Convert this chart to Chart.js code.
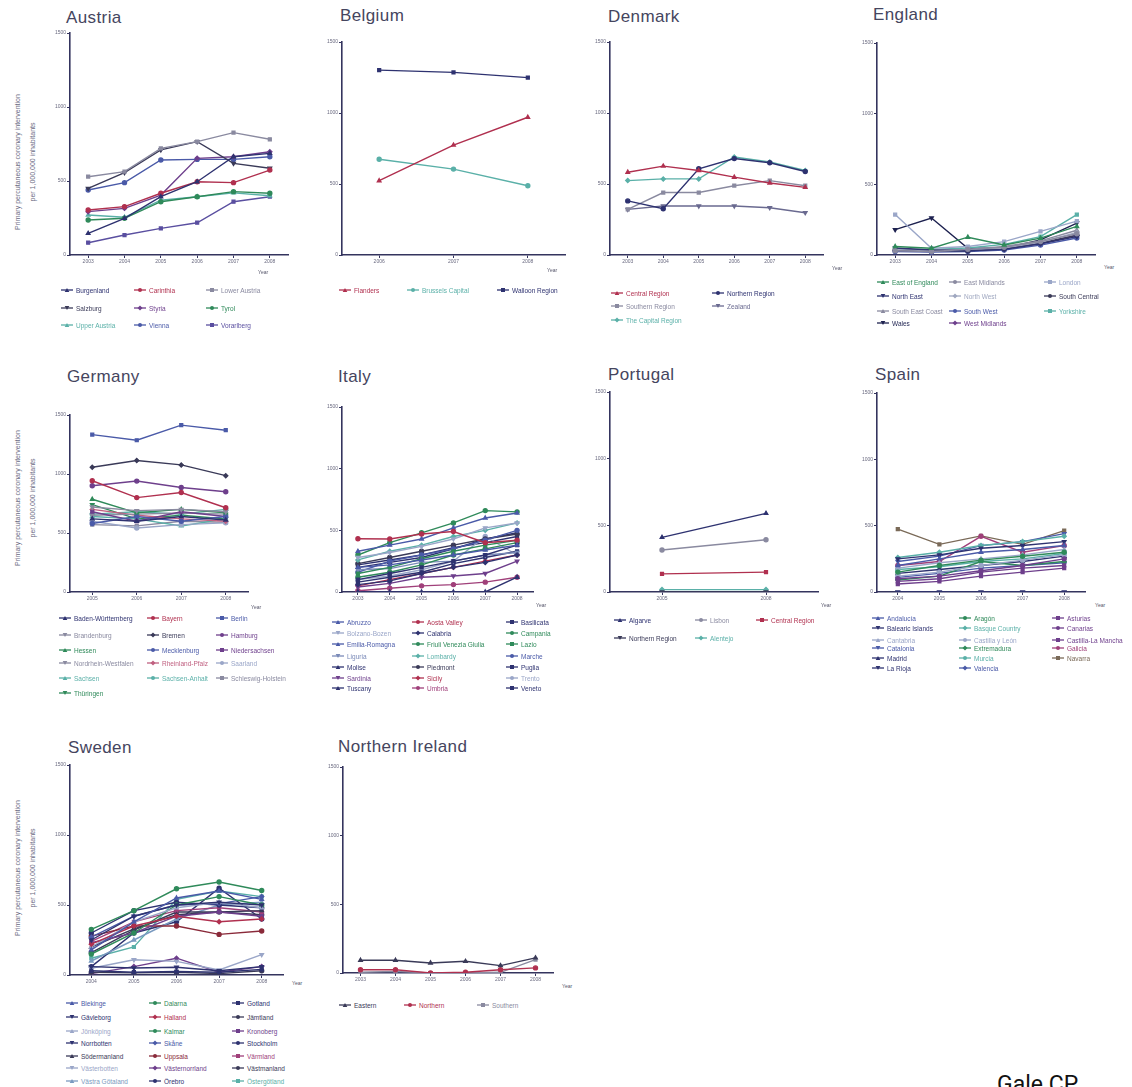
<!DOCTYPE html>
<html>
<head>
<meta charset="utf-8">
<title>PPCI rates by region</title>
<script src="https://cdn.jsdelivr.net/npm/chart.js@4.4.1/dist/chart.umd.min.js"></script>
<style>
  body { margin: 0; width: 1132px; height: 1087px; overflow: hidden; background: #fff; position: relative;
         font-family: "Liberation Sans", Arial, sans-serif; }
  canvas { position: absolute; }
  .title { position: absolute; font-size: 17px; letter-spacing: 0.4px; color: #45455e; white-space: nowrap; line-height: 18px; }
  .ytitle { position: absolute; width: 190px; height: 30px; font-size: 7px; line-height: 15px; color: #6a6a82;
            text-align: center; white-space: nowrap; transform: rotate(-90deg); }
  .year { position: absolute; font-size: 5px; color: #55556a; }
  .leg { position: absolute; font-size: 6.5px; white-space: nowrap; display: flex; align-items: center; height: 8px; }
  .leg svg { margin-right: 3px; }
  .credit { position: absolute; font-family: Roboto, sans-serif; font-size: 23px; color: #111; }
</style>
</head>
<body>
<script>
// ---- data: PPCI per 1,000,000 inhabitants ----

const austriaYears = ['2003', '2004', '2005', '2006', '2007', '2008'];
const austriaRegions = ['Burgenland', 'Carinthia', 'Lower Austria', 'Salzburg', 'Styria', 'Tyrol', 'Upper Austria', 'Vienna', 'Vorarlberg'];
const austriaRates = [
  [146, 248, 394, 495, 664, 687],
  [304, 327, 417, 495, 489, 574],
  [529, 563, 721, 766, 827, 782],
  [450, 556, 710, 766, 619, 586],
  [293, 315, 405, 653, 664, 698],
  [236, 248, 360, 394, 428, 417],
  [270, 255, 370, 394, 420, 400],
  [439, 489, 642, 646, 646, 664],
  [83, 135, 180, 218, 360, 394]
];

const belgiumYears = ['2006', '2007', '2008'];
const belgiumRegions = ['Flanders', 'Brussels Capital', 'Walloon Region'];
const belgiumRates = [
  [523, 774, 970],
  [674, 605, 488],
  [1302, 1286, 1249]
];

const denmarkYears = ['2003', '2004', '2005', '2006', '2007', '2008'];
const denmarkRegions = ['Central Region', 'Northern Region', 'Southern Region', 'Zealand', 'The Capital Region'];
const denmarkRates = [
  [583, 626, 595, 548, 507, 476],
  [381, 326, 607, 679, 650, 588],
  [321, 440, 440, 488, 524, 488],
  [321, 345, 345, 345, 333, 298],
  [524, 536, 536, 690, 655, 595]
];

const englandYears = ['2003', '2004', '2005', '2006', '2007', '2008'];
const englandRegions = ['East of England', 'East Midlands', 'London', 'North East', 'North West', 'South Central',
  'South East Coast', 'South West', 'Yorkshire', 'Wales', 'West Midlands'];
const englandRates = [
  [60, 48, 126, 71, 119, 202],
  [30, 25, 40, 55, 95, 150],
  [286, 48, 60, 95, 167, 240],
  [50, 35, 30, 40, 80, 130],
  [40, 30, 35, 50, 90, 160],
  [35, 30, 30, 45, 85, 140],
  [45, 35, 40, 60, 100, 175],
  [25, 20, 25, 35, 70, 120],
  [40, 40, 50, 75, 130, 286],
  [179, 262, 48, 48, 107, 226],
  [30, 25, 35, 45, 80, 140]
];

const germanyYears = ['2005', '2006', '2007', '2008'];
const germanyStates = ['Baden-Württemberg', 'Bayern', 'Berlin', 'Brandenburg', 'Bremen', 'Hamburg', 'Hessen',
  'Mecklenburg', 'Niedersachsen', 'Nordrhein-Westfalen', 'Rheinland-Pfalz', 'Saarland', 'Sachsen',
  'Sachsen-Anhalt', 'Schleswig-Holstein', 'Thüringen'];
const germanyRates = [
  [620, 600, 640, 610],
  [943, 800, 843, 714],
  [1334, 1286, 1414, 1371],
  [720, 690, 700, 680],
  [1057, 1114, 1077, 986],
  [900, 940, 886, 849],
  [786, 671, 700, 671],
  [580, 640, 600, 640],
  [680, 600, 680, 640],
  [650, 660, 670, 660],
  [700, 650, 620, 600],
  [600, 543, 571, 586],
  [640, 620, 560, 620],
  [660, 680, 660, 700],
  [571, 560, 600, 590],
  [740, 620, 650, 620]
];

const italyYears = ['2003', '2004', '2005', '2006', '2007', '2008'];
const italyRegions = ['Abruzzo', 'Aosta Valley', 'Basilicata', 'Bolzano-Bozen', 'Calabria', 'Campania',
  'Emilia-Romagna', 'Friuli Venezia Giulia', 'Lazio', 'Liguria', 'Lombardy', 'Marche', 'Molise', 'Piedmont',
  'Puglia', 'Sardinia', 'Sicily', 'Trento', 'Tuscany', 'Umbria', 'Veneto'];
const italyRates = [
  [200, 220, 260, 300, 340, 380],
  [432, 430, 470, 490, 400, 420],
  [100, 150, 200, 250, 300, 380],
  [280, 320, 370, 430, 520, 560],
  [60, 90, 150, 200, 240, 300],
  [120, 160, 220, 300, 350, 400],
  [330, 380, 430, 520, 600, 640],
  [300, 400, 480, 560, 660, 650],
  [150, 200, 270, 330, 380, 420],
  [180, 190, 240, 250, 300, 320],
  [260, 330, 380, 450, 500, 560],
  [160, 250, 300, 350, 420, 500],
  [0, 0, 0, 0, 0, 120],
  [230, 280, 330, 380, 430, 470],
  [80, 120, 160, 230, 280, 330],
  [40, 70, 120, 130, 150, 250],
  [50, 100, 150, 200, 250, 300],
  [100, 130, 180, 250, 450, 300],
  [200, 240, 280, 350, 430, 480],
  [10, 30, 50, 60, 80, 120],
  [220, 260, 300, 360, 400, 450]
];

const portugalYears = ['2005', '2008'];
const portugalRegions = ['Algarve', 'Lisbon', 'Central Region', 'Northern Region', 'Alentejo'];
const portugalRates = [
  [410, 590],
  [315, 392],
  [136, 149],
  [0, 0],
  [18, 18]
];

const spainYears = ['2004', '2005', '2006', '2007', '2008'];
const spainRegions = ['Andalucía', 'Aragón', 'Asturias', 'Balearic Islands', 'Basque Country', 'Canarias',
  'Cantabria', 'Castilla y León', 'Castilla-La Mancha', 'Catalonia', 'Extremadura', 'Galicia', 'Madrid',
  'Murcia', 'Navarra', 'La Rioja', 'Valencia'];
const spainRates = [
  [200, 250, 300, 320, 350],
  [150, 200, 240, 270, 300],
  [80, 100, 150, 180, 200],
  [250, 280, 330, 350, 380],
  [260, 300, 350, 380, 420],
  [100, 120, 160, 200, 250],
  [180, 220, 250, 280, 320],
  [120, 150, 200, 240, 280],
  [60, 80, 120, 150, 180],
  [230, 270, 350, 380, 440],
  [90, 120, 230, 200, 230],
  [200, 230, 420, 300, 350],
  [140, 170, 200, 230, 270],
  [170, 190, 230, 250, 290],
  [474, 359, 423, 359, 462],
  [0, 0, 0, 0, 0],
  [110, 140, 180, 200, 220]
];

const swedenYears = ['2004', '2005', '2006', '2007', '2008'];
const swedenCounties = ['Blekinge', 'Dalarna', 'Gotland', 'Gävleborg', 'Halland', 'Jämtland', 'Jönköping',
  'Kalmar', 'Kronoberg', 'Norrbotten', 'Skåne', 'Stockholm', 'Södermanland', 'Uppsala', 'Värmland',
  'Västerbotten', 'Västernorrland', 'Västmanland', 'Västra Götaland', 'Örebro', 'Östergötland'];
const swedenRates = [
  [180, 380, 550, 600, 540],
  [326, 459, 616, 664, 604],
  [30, 20, 25, 20, 40],
  [250, 420, 500, 520, 500],
  [220, 350, 420, 380, 400],
  [20, 15, 20, 10, 30],
  [200, 380, 480, 520, 480],
  [150, 300, 500, 560, 500],
  [230, 300, 420, 450, 420],
  [60, 50, 55, 30, 60],
  [270, 420, 500, 510, 560],
  [300, 460, 520, 500, 480],
  [200, 330, 430, 450, 460],
  [278, 350, 350, 290, 314],
  [240, 380, 460, 480, 450],
  [48, 109, 97, 36, 145],
  [10, 60, 120, 20, 60],
  [160, 320, 450, 450, 430],
  [100, 250, 400, 500, 520],
  [60, 300, 380, 620, 400],
  [120, 200, 540, 600, 560]
];

const niYears = ['2003', '2004', '2005', '2006', '2007', '2008'];
const niTrusts = ['Eastern', 'Northern', 'Southern'];
const niRates = [
  [93, 93, 73, 85, 54, 110],
  [24, 24, 0, 5, 24, 37],
  [5, 12, 0, 0, 5, 98]
];

// ---- styling ----

const axisColor = '#34345e';
const tickColor = '#6a6a80';
const markers = ['triangle', 'circle', 'rect', 'triangleDown', 'rectRot', 'circle'];

const NAVY = '#2e3270', BLUE = '#4a5aa8', RED = '#b0304f', GREEN = '#2f8a5a', TEAL = '#5ab0a8',
      PURPLE = '#6e3f8c', GREY = '#8a8aa0', DARK = '#3a3a58', LIGHT = '#9aa6c8', MAGENTA = '#a0407a';

Chart.defaults.font.family = '"Liberation Sans", Arial, sans-serif';

function markerSvg(color, style) {
  let shape;
  if (style === 'circle') shape = `<circle cx="6" cy="4" r="2" fill="${color}"/>`;
  else if (style === 'rect') shape = `<rect x="4" y="2" width="4" height="4" fill="${color}"/>`;
  else if (style === 'rectRot') shape = `<polygon points="6,1.5 8.5,4 6,6.5 3.5,4" fill="${color}"/>`;
  else if (style === 'triangleDown') shape = `<polygon points="3.7,2 8.3,2 6,6" fill="${color}"/>`;
  else shape = `<polygon points="6,2 8.3,6 3.7,6" fill="${color}"/>`;
  return `<svg width="12" height="8"><line x1="0" y1="4" x2="12" y2="4" stroke="${color}" stroke-width="1.3"/>${shape}</svg>`;
}

function addText(cls, text, x, y) {
  const d = document.createElement('div');
  d.className = cls;
  d.innerHTML = text;
  d.style.left = x + 'px';
  d.style.top = y + 'px';
  document.body.appendChild(d);
  return d;
}

function drawPanel(p) {
  const [x0, x1, yTop, yZero] = p.axis;
  const yW = 22, xH = 16, padTop = 6, padRight = 6;
  const canvas = document.createElement('canvas');
  const w = x1 - x0 + yW + padRight;
  const h = yZero - yTop + padTop + xH;
  canvas.width = w; canvas.height = h;
  canvas.style.width = w + 'px'; canvas.style.height = h + 'px';
  canvas.style.left = (x0 - yW) + 'px';
  canvas.style.top = (yTop - padTop) + 'px';
  document.body.appendChild(canvas);

  const styles = p.names.map((_, i) => markers[i % markers.length]);

  new Chart(canvas, {
    type: 'line',
    data: {
      labels: p.years,
      datasets: p.names.map((name, i) => ({
        label: name,
        data: p.values[i],
        borderColor: p.colors[i % p.colors.length],
        backgroundColor: p.colors[i % p.colors.length],
        borderWidth: 1.4,
        pointStyle: styles[i] === 'triangleDown' ? 'triangle' : styles[i],
        rotation: styles[i] === 'triangleDown' ? 180 : 0,
        pointRadius: 2,
        tension: 0
      }))
    },
    options: {
      responsive: false,
      devicePixelRatio: 1,
      animation: false,
      layout: { autoPadding: false, padding: { top: padTop, right: padRight, left: 0, bottom: 0 } },
      plugins: { legend: { display: false }, tooltip: { enabled: false } },
      scales: {
        x: {
          offset: true,
          grid: { drawOnChartArea: false, offset: false, tickLength: 3, color: axisColor, lineWidth: 1 },
          border: { color: axisColor, width: 1.6 },
          ticks: { font: { size: 5 }, color: tickColor, padding: 1, maxRotation: 0, autoSkip: false },
          afterFit: s => { s.height = xH; }
        },
        y: {
          min: 0, max: 1500,
          grid: { drawOnChartArea: false, tickLength: 3, color: axisColor, lineWidth: 1 },
          border: { color: axisColor, width: 1.6 },
          ticks: { stepSize: 500, font: { size: 5 }, color: tickColor, padding: 1, callback: v => String(v) },
          afterFit: s => { s.width = yW; }
        }
      }
    }
  });

  // title, axis caption and legend
  addText('title', p.title, p.titleAt[0], p.titleAt[1] - 9);
  addText('year', 'Year', p.yearAt[0], p.yearAt[1] - 3);
  const cols = p.legend.cols, rows = p.legend.rows;
  p.names.forEach((name, i) => {
    const c = i % cols.length, r = Math.floor(i / cols.length);
    const color = p.colors[i % p.colors.length];
    addText('leg', markerSvg(color, styles[i]) + `<span style="color:${color}">${name}</span>`,
      cols[c], rows[r] - 4);
  });
  if (p.yTitleAt) {
    addText('ytitle', 'Primary percutaneous coronary intervention<br>per 1,000,000 inhabitants',
      p.yTitleAt[0] - 95, p.yTitleAt[1] - 15);
  }
}

const panels = [
  { title: 'Austria', years: austriaYears, names: austriaRegions, values: austriaRates,
    colors: [NAVY, RED, GREY, DARK, PURPLE, GREEN, TEAL, BLUE, '#5a4fa0'],
    axis: [70, 288, 33, 255], titleAt: [66, 18], yearAt: [258, 272], yTitleAt: [25, 162],
    legend: { cols: [61, 134, 206], rows: [290, 308, 325] } },
  { title: 'Belgium', years: belgiumYears, names: belgiumRegions, values: belgiumRates,
    colors: [RED, TEAL, NAVY],
    axis: [342, 565, 42, 255], titleAt: [340, 16], yearAt: [547, 270],
    legend: { cols: [339, 407, 497], rows: [290] } },
  { title: 'Denmark', years: denmarkYears, names: denmarkRegions, values: denmarkRates,
    colors: [RED, NAVY, GREY, '#6a6a90', TEAL],
    axis: [610, 823, 42, 255], titleAt: [608, 17], yearAt: [832, 268],
    legend: { cols: [611, 712], rows: [293, 306, 320] } },
  { title: 'England', years: englandYears, names: englandRegions, values: englandRates,
    colors: [GREEN, GREY, LIGHT, NAVY, '#a0a8c0', DARK, GREY, BLUE, TEAL, '#1e2250', PURPLE],
    axis: [877, 1095, 43, 255], titleAt: [873, 15], yearAt: [1104, 267],
    legend: { cols: [877, 949, 1044], rows: [282, 296, 311, 323] } },
  { title: 'Germany', years: germanyYears, names: germanyStates, values: germanyRates,
    colors: [NAVY, RED, BLUE, GREY, DARK, PURPLE, GREEN, BLUE, PURPLE, GREY, '#c06080', LIGHT, TEAL, TEAL, GREY, GREEN],
    axis: [70, 248, 415, 592], titleAt: [67, 377], yearAt: [251, 607], yTitleAt: [25, 498],
    legend: { cols: [59, 147, 216], rows: [618, 635, 650, 663, 678, 693] } },
  { title: 'Italy', years: italyYears, names: italyRegions, values: italyRates,
    colors: [BLUE, RED, NAVY, LIGHT, NAVY, GREEN, BLUE, GREEN, GREEN, '#7a8ab8', TEAL, BLUE, NAVY, DARK,
      NAVY, PURPLE, RED, LIGHT, NAVY, MAGENTA, NAVY],
    axis: [342, 533, 407, 592], titleAt: [338, 377], yearAt: [536, 605],
    legend: { cols: [332, 412, 506], rows: [622, 633, 644, 656, 667, 678, 688] } },
  { title: 'Portugal', years: portugalYears, names: portugalRegions, values: portugalRates,
    colors: [NAVY, GREY, RED, DARK, TEAL],
    axis: [610, 818, 392, 592], titleAt: [608, 375], yearAt: [821, 605],
    legend: { cols: [614, 695, 756], rows: [620, 638] } },
  { title: 'Spain', years: spainYears, names: spainRegions, values: spainRates,
    colors: [BLUE, GREEN, PURPLE, NAVY, TEAL, PURPLE, LIGHT, LIGHT, PURPLE, BLUE, GREEN, MAGENTA, NAVY, TEAL,
      '#7a6a58', NAVY, BLUE],
    axis: [877, 1085, 393, 592], titleAt: [875, 375], yearAt: [1095, 605],
    legend: { cols: [872, 959, 1052], rows: [618, 628, 640, 648, 658, 668] } },
  { title: 'Sweden', years: swedenYears, names: swedenCounties, values: swedenRates,
    colors: [BLUE, GREEN, NAVY, NAVY, RED, DARK, LIGHT, GREEN, PURPLE, NAVY, BLUE, NAVY, DARK, '#8a2a3a',
      MAGENTA, LIGHT, PURPLE, DARK, '#7a9ac0', NAVY, TEAL],
    axis: [70, 283, 765, 975], titleAt: [68, 748], yearAt: [292, 983], yTitleAt: [25, 868],
    legend: { cols: [66, 149, 232], rows: [1003, 1017, 1031, 1043, 1056, 1068, 1081] } },
  { title: 'Northern Ireland', years: niYears, names: niTrusts, values: niRates,
    colors: [DARK, RED, GREY],
    axis: [343, 553, 767, 973], titleAt: [338, 747], yearAt: [562, 986],
    legend: { cols: [339, 404, 477], rows: [1005] } }
];

panels.forEach(drawPanel);

addText('credit', 'Gale CP', 997, 1071);
</script>
</body>
</html>
